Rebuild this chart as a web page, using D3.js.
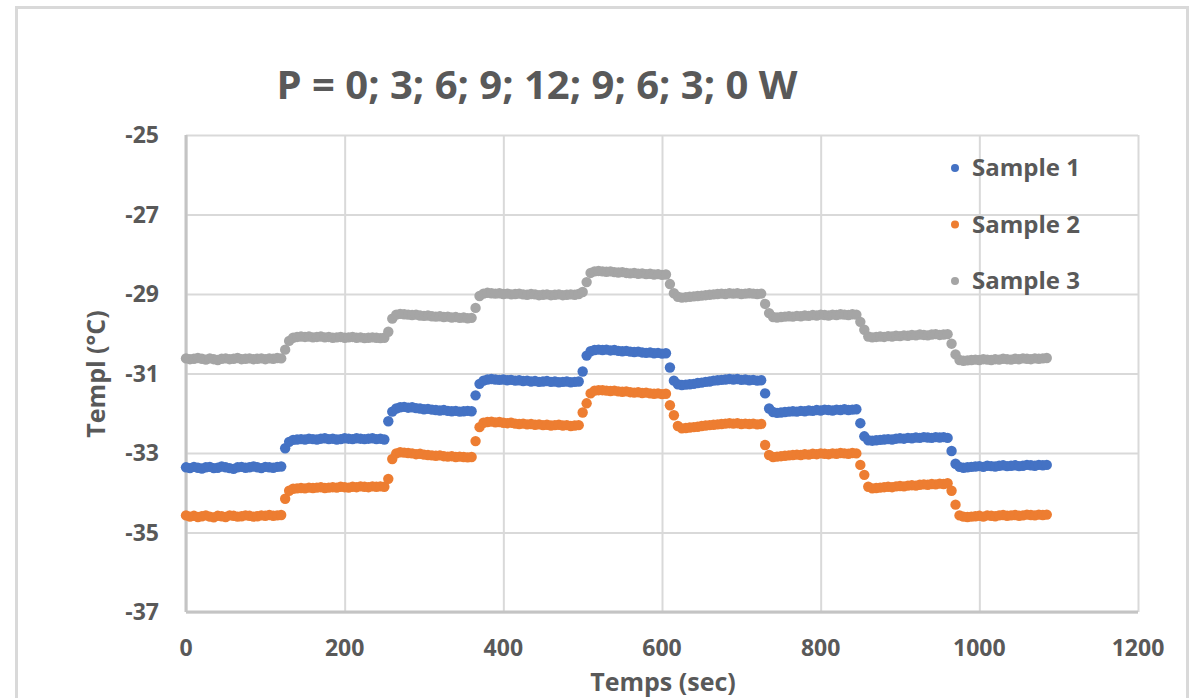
<!DOCTYPE html>
<html>
<head>
<meta charset="utf-8">
<script src="https://cdn.jsdelivr.net/npm/d3@7"></script>
<style>
  body { margin: 0; background: #fff; }
  svg text { font-family: "Open Sans", "DejaVu Sans", sans-serif; font-weight: 700; fill: #595959; }
</style>
</head>
<body>
<div id="chart"></div>
<script>
// sampling: one reading every 5 s, each plateau starts at segStart
var dt = 5;
var segStart = [0, 125, 255, 365, 500, 610, 730, 850, 965];

var sample1 = [
  [-33.36,-33.38,-33.35,-33.37,-33.39,-33.36,-33.35,-33.38,-33.37,-33.34,-33.36,-33.38,-33.40,-33.36,-33.35,-33.37,-33.36,-33.34,-33.36,-33.38,-33.35,-33.36,-33.37,-33.35,-33.34],
  [-32.88,-32.72,-32.67,-32.66,-32.65,-32.66,-32.64,-32.65,-32.66,-32.64,-32.63,-32.65,-32.64,-32.66,-32.65,-32.63,-32.64,-32.65,-32.63,-32.64,-32.65,-32.64,-32.63,-32.65,-32.64,-32.66],
  [-32.20,-31.96,-31.88,-31.85,-31.84,-31.86,-31.85,-31.87,-31.88,-31.90,-31.89,-31.91,-31.92,-31.93,-31.92,-31.94,-31.95,-31.94,-31.96,-31.95,-31.94,-31.95],
  [-31.55,-31.26,-31.18,-31.15,-31.14,-31.15,-31.16,-31.15,-31.17,-31.16,-31.18,-31.17,-31.19,-31.18,-31.20,-31.19,-31.21,-31.20,-31.19,-31.21,-31.20,-31.22,-31.21,-31.20,-31.22,-31.21,-31.20],
  [-30.95,-30.55,-30.44,-30.41,-30.40,-30.41,-30.40,-30.42,-30.41,-30.43,-30.44,-30.43,-30.45,-30.46,-30.45,-30.47,-30.48,-30.47,-30.49,-30.48,-30.50,-30.49],
  [-30.85,-31.18,-31.27,-31.29,-31.28,-31.27,-31.26,-31.24,-31.23,-31.21,-31.20,-31.18,-31.17,-31.16,-31.15,-31.14,-31.15,-31.14,-31.16,-31.15,-31.17,-31.16,-31.18,-31.17],
  [-31.50,-31.88,-31.97,-31.99,-31.98,-31.97,-31.96,-31.95,-31.96,-31.94,-31.95,-31.93,-31.94,-31.92,-31.93,-31.91,-31.92,-31.93,-31.91,-31.92,-31.90,-31.92,-31.91,-31.90],
  [-32.25,-32.58,-32.68,-32.69,-32.68,-32.67,-32.66,-32.65,-32.66,-32.64,-32.63,-32.64,-32.62,-32.63,-32.61,-32.62,-32.60,-32.61,-32.62,-32.60,-32.61,-32.60,-32.62],
  [-32.95,-33.27,-33.35,-33.37,-33.36,-33.35,-33.34,-33.33,-33.35,-33.32,-33.33,-33.34,-33.32,-33.31,-33.33,-33.32,-33.31,-33.33,-33.32,-33.30,-33.31,-33.32,-33.30,-33.31,-33.30]
];

var sample2 = [
  [-34.57,-34.60,-34.58,-34.61,-34.59,-34.57,-34.60,-34.62,-34.58,-34.59,-34.61,-34.57,-34.58,-34.60,-34.59,-34.57,-34.58,-34.60,-34.59,-34.57,-34.58,-34.56,-34.58,-34.57,-34.56],
  [-34.15,-33.95,-33.90,-33.89,-33.88,-33.89,-33.87,-33.88,-33.87,-33.86,-33.88,-33.87,-33.86,-33.87,-33.85,-33.86,-33.87,-33.85,-33.86,-33.84,-33.85,-33.86,-33.84,-33.85,-33.84,-33.85],
  [-33.65,-33.15,-33.01,-32.98,-32.99,-33.00,-33.01,-33.03,-33.02,-33.04,-33.05,-33.06,-33.07,-33.06,-33.08,-33.09,-33.08,-33.10,-33.09,-33.10,-33.11,-33.10],
  [-32.70,-32.35,-32.24,-32.22,-32.21,-32.23,-32.22,-32.24,-32.25,-32.24,-32.26,-32.27,-32.26,-32.28,-32.27,-32.29,-32.28,-32.30,-32.29,-32.31,-32.30,-32.29,-32.31,-32.30,-32.32,-32.31,-32.30],
  [-31.98,-31.75,-31.50,-31.43,-31.42,-31.42,-31.43,-31.44,-31.43,-31.45,-31.46,-31.45,-31.47,-31.48,-31.47,-31.49,-31.48,-31.50,-31.51,-31.50,-31.52,-31.51],
  [-31.80,-32.05,-32.32,-32.38,-32.37,-32.36,-32.35,-32.34,-32.32,-32.31,-32.30,-32.29,-32.28,-32.27,-32.26,-32.25,-32.26,-32.25,-32.27,-32.26,-32.27,-32.26,-32.28,-32.27],
  [-32.80,-33.05,-33.10,-33.09,-33.08,-33.07,-33.06,-33.05,-33.04,-33.05,-33.03,-33.04,-33.02,-33.03,-33.01,-33.02,-33.03,-33.01,-33.02,-33.00,-33.01,-33.02,-33.00,-33.01],
  [-33.30,-33.55,-33.85,-33.89,-33.88,-33.87,-33.86,-33.85,-33.86,-33.84,-33.83,-33.84,-33.82,-33.81,-33.82,-33.80,-33.79,-33.80,-33.78,-33.79,-33.77,-33.78,-33.76],
  [-33.95,-34.30,-34.57,-34.60,-34.61,-34.60,-34.59,-34.58,-34.60,-34.57,-34.58,-34.59,-34.57,-34.56,-34.58,-34.57,-34.56,-34.58,-34.57,-34.55,-34.56,-34.57,-34.55,-34.56,-34.55]
];

var sample3 = [
  [-30.62,-30.64,-30.63,-30.61,-30.63,-30.65,-30.62,-30.64,-30.66,-30.63,-30.62,-30.64,-30.63,-30.61,-30.64,-30.63,-30.62,-30.64,-30.63,-30.62,-30.64,-30.62,-30.63,-30.61,-30.62],
  [-30.40,-30.18,-30.10,-30.08,-30.07,-30.08,-30.07,-30.09,-30.08,-30.07,-30.09,-30.08,-30.10,-30.09,-30.08,-30.10,-30.09,-30.08,-30.10,-30.09,-30.11,-30.10,-30.09,-30.10,-30.11,-30.10],
  [-29.95,-29.62,-29.52,-29.50,-29.51,-29.52,-29.53,-29.52,-29.54,-29.55,-29.54,-29.56,-29.57,-29.56,-29.58,-29.57,-29.59,-29.58,-29.60,-29.59,-29.61,-29.60],
  [-29.35,-29.05,-28.99,-28.97,-28.98,-28.99,-28.98,-29.00,-28.99,-29.01,-29.00,-28.99,-29.01,-29.02,-29.00,-29.01,-29.03,-29.02,-29.01,-29.03,-29.02,-29.01,-29.03,-29.02,-29.01,-29.02,-29.00],
  [-28.95,-28.70,-28.47,-28.43,-28.42,-28.43,-28.44,-28.43,-28.45,-28.46,-28.45,-28.47,-28.48,-28.47,-28.49,-28.48,-28.50,-28.49,-28.51,-28.50,-28.52,-28.51],
  [-28.75,-28.98,-29.07,-29.09,-29.08,-29.07,-29.06,-29.05,-29.04,-29.03,-29.02,-29.01,-29.00,-28.99,-29.00,-28.98,-28.99,-28.98,-29.00,-28.99,-28.98,-28.99,-29.00,-28.99],
  [-29.25,-29.48,-29.58,-29.59,-29.58,-29.57,-29.56,-29.57,-29.55,-29.56,-29.54,-29.55,-29.53,-29.54,-29.52,-29.53,-29.54,-29.52,-29.53,-29.51,-29.52,-29.53,-29.51,-29.52],
  [-29.70,-29.90,-30.07,-30.09,-30.08,-30.07,-30.08,-30.06,-30.07,-30.05,-30.06,-30.04,-30.05,-30.03,-30.04,-30.02,-30.03,-30.04,-30.02,-30.01,-30.03,-30.02,-30.01],
  [-30.25,-30.52,-30.66,-30.68,-30.67,-30.66,-30.65,-30.66,-30.64,-30.65,-30.66,-30.64,-30.65,-30.63,-30.64,-30.65,-30.63,-30.64,-30.62,-30.63,-30.64,-30.62,-30.63,-30.62,-30.61]
];

var seriesNames = ["Sample 1", "Sample 2", "Sample 3"];
var seriesColors = ["#4472C4", "#ED7D31", "#A5A5A5"];
var xTicks = [0, 200, 400, 600, 800, 1000, 1200];
var yTicks = [-25, -27, -29, -31, -33, -35, -37];
var titleText = "P = 0; 3; 6; 9; 12; 9; 6; 3; 0 W";

// turn plateau lists into {t, v} points
function toPoints(segs) {
    var pts = [];
    segs.forEach(function(seg, s) {
        seg.forEach(function(v, i) {
            pts.push({ t: segStart[s] + i * dt, v: v });
        });
    });
    return pts;
}
var allSeries = [sample1, sample2, sample3].map(toPoints);

var width = 1189, height = 698;
var margin = { left: 186, right: 51, top: 135, bottom: 86 };

var svg = d3.select("#chart").append("svg")
    .attr("width", width)
    .attr("height", height);

// outer chart frame
svg.append("rect")
    .attr("x", 16.5).attr("y", 7.5)
    .attr("width", 1171).attr("height", 720)
    .attr("fill", "none")
    .attr("stroke", "#d9d9d9")
    .attr("stroke-width", 3);

var x = d3.scaleLinear().domain([0, 1200]).range([margin.left, width - margin.right]);
var y = d3.scaleLinear().domain([-37, -25]).range([height - margin.bottom, margin.top]);

// gridlines
svg.append("g")
    .attr("transform", "translate(0," + y(-37) + ")")
    .call(d3.axisBottom(x).tickValues(xTicks).tickSize(-(y(-37) - y(-25))).tickFormat(""))
    .call(function(g) { g.select(".domain").remove(); })
    .selectAll("line").attr("stroke", "#d9d9d9").attr("stroke-width", 2);

svg.append("g")
    .attr("transform", "translate(" + x(0) + ",0)")
    .call(d3.axisLeft(y).tickValues(yTicks).tickSize(-(x(1200) - x(0))).tickFormat(""))
    .call(function(g) { g.select(".domain").remove(); })
    .selectAll("line").attr("stroke", "#d9d9d9").attr("stroke-width", 2);

// axis lines (left and bottom a bit darker)
svg.append("line")
    .attr("x1", x(0)).attr("x2", x(0)).attr("y1", y(-25)).attr("y2", y(-37))
    .attr("stroke", "#c4c4c4").attr("stroke-width", 3);
svg.append("line")
    .attr("x1", x(0)).attr("x2", x(1200)).attr("y1", y(-37)).attr("y2", y(-37))
    .attr("stroke", "#c4c4c4").attr("stroke-width", 3);

// tick labels
svg.append("g").selectAll("text")
    .data(xTicks).enter().append("text")
    .attr("x", function(d) { return x(d); })
    .attr("y", 656)
    .attr("text-anchor", "middle")
    .style("font-size", "23px")
    .text(function(d) { return d; });

svg.append("g").selectAll("text")
    .data(yTicks).enter().append("text")
    .attr("x", 159)
    .attr("y", function(d) { return y(d); })
    .attr("dy", "0.35em")
    .attr("text-anchor", "end")
    .style("font-size", "23px")
    .text(function(d) { return d; });

// axis titles
svg.append("text")
    .attr("x", 663).attr("y", 691)
    .attr("text-anchor", "middle")
    .style("font-size", "25px")
    .text("Temps (sec)");

svg.append("text")
    .attr("transform", "translate(105,374) rotate(-90)")
    .attr("text-anchor", "middle")
    .style("font-size", "25px")
    .text("Templ (°C)");

// title
svg.append("text")
    .attr("x", 537).attr("y", 99)
    .attr("text-anchor", "middle")
    .style("font-size", "40px")
    .text(titleText);

// the dots
allSeries.forEach(function(pts, k) {
    svg.append("g").selectAll("circle")
        .data(pts).enter().append("circle")
        .attr("cx", function(d) { return x(d.t); })
        .attr("cy", function(d) { return y(d.v); })
        .attr("r", 5.2)
        .attr("fill", seriesColors[k]);
});

// legend
var legend = svg.append("g").selectAll("g")
    .data(seriesNames).enter().append("g")
    .attr("transform", function(d, i) { return "translate(955," + (168 + i * 56.5) + ")"; });
legend.append("circle").attr("r", 4).attr("fill", function(d, i) { return seriesColors[i]; });
legend.append("text")
    .attr("x", 17).attr("dy", "0.35em")
    .style("font-size", "24px")
    .text(function(d) { return d; });
</script>
</body>
</html>
